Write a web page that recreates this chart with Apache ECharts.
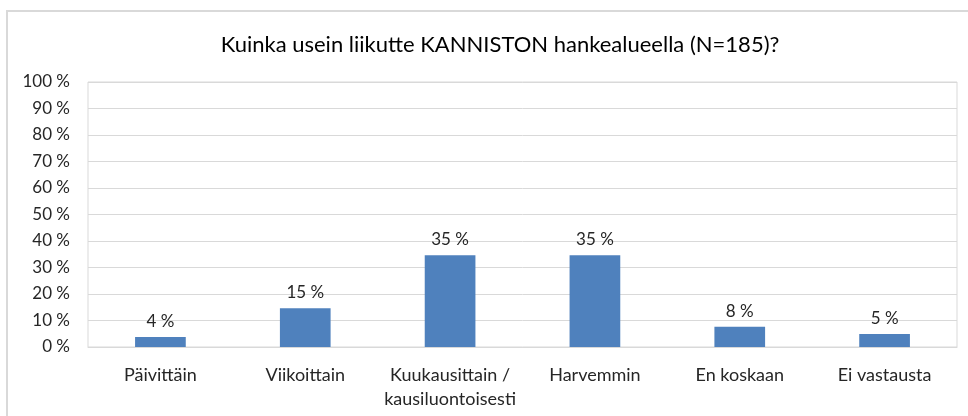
<!DOCTYPE html>
<html>
<head>
<meta charset="utf-8">
<script src="https://cdn.jsdelivr.net/npm/echarts@6/dist/echarts.min.js"></script>
<style>
html,body{margin:0;padding:0;background:#fff;}
#c{width:968px;height:416px;}
</style>
</head>
<body>
<div id="c"></div>
<script>
const titleText = 'Kuinka usein liikutte KANNISTON hankealueella (N=185)?';
const categories = ['Päivittäin', 'Viikoittain', 'Kuukausittain /\nkausiluontoisesti', 'Harvemmin', 'En koskaan', 'Ei vastausta'];
const values = [3.8, 14.6, 34.6, 34.6, 7.6, 4.9];
const yTicks = [0, 10, 20, 30, 40, 50, 60, 70, 80, 90, 100];

const font = 'Lato, "Open Sans", sans-serif';
const chart = echarts.init(document.getElementById('c'), null, {renderer: 'canvas'});
chart.setOption({
  animation: false,
  backgroundColor: '#ffffff',
  graphic: [{
    type: 'rect',
    shape: {x: 7, y: 11, width: 980, height: 430},
    style: {fill: 'none', stroke: '#D9D9D9', lineWidth: 2},
    silent: true
  }],
  title: {
    text: titleText,
    left: 495,
    top: 29,
    textAlign: 'center',
    textStyle: {fontFamily: font, fontSize: 22, fontWeight: 'normal', color: '#000000'}
  },
  grid: {
    left: 88, right: 11, top: 82, bottom: 69,
    show: true, borderColor: '#D9D9D9', borderWidth: 1, containLabel: false
  },
  xAxis: {
    type: 'category',
    data: categories,
    axisLine: {show: true, lineStyle: {color: '#D9D9D9', width: 1}},
    axisTick: {show: false},
    axisLabel: {
      interval: 0, margin: 16, color: '#262626',
      fontFamily: font, fontSize: 18, lineHeight: 24
    }
  },
  yAxis: {
    type: 'value',
    min: 0, max: 100, interval: 10,
    axisLine: {show: false},
    axisTick: {show: false},
    splitLine: {show: true, lineStyle: {color: '#D9D9D9', width: 1}},
    axisLabel: {
      margin: 18, color: '#262626', fontFamily: font, fontSize: 17,
      formatter: function (v) { return yTicks.indexOf(v) >= 0 ? v + ' %' : ''; }
    }
  },
  series: [{
    type: 'bar',
    data: values,
    barWidth: '35%',
    itemStyle: {color: '#4F81BD'},
    label: {
      show: true, position: 'top', distance: 7,
      color: '#262626', fontFamily: font, fontSize: 17,
      formatter: function (p) { return Math.round(p.value) + ' %'; }
    }
  }]
});
</script>
</body>
</html>
